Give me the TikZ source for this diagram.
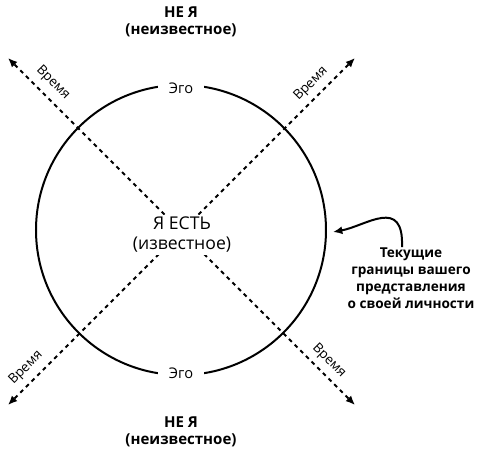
\documentclass[tikz,border=0pt]{standalone}
\usepackage{fontspec}
\setmainfont{Open Sans}
\usetikzlibrary{arrows.meta}
\begin{document}
\begin{tikzpicture}[x=0.75pt,y=-0.75pt,
  axis/.style={line width=1.5pt, dash pattern=on 3pt off 3pt, -{Latex[length=7pt,width=6pt]}},
  title/.style={font=\bfseries\fontsize{11.3}{12.8}\selectfont, align=center, inner sep=0pt},
  ego/.style={font=\fontsize{11}{12}\selectfont, fill=white, inner xsep=8pt, inner ysep=2pt},
  time/.style={font=\fontsize{10}{11}\selectfont, inner sep=0pt},
  note/.style={font=\bfseries\fontsize{10.2}{12.8}\selectfont, align=center, inner sep=0pt}]
\useasboundingbox (0,0) rectangle (480,456);
\coordinate (tl) at (8,58);
\coordinate (tr) at (355,58);
\coordinate (bl) at (8,405);
\coordinate (br) at (355,405);
\coordinate (o) at (181.5,231.5);
\draw[axis] (o) -- (tl);
\draw[axis] (o) -- (tr);
\draw[axis] (o) -- (bl);
\draw[axis] (o) -- (br);
\draw[line width=1.5pt] (181,230) circle[radius=145];
\node[fill=white, align=center, inner sep=2pt, font=\fontsize{13.2}{15}\selectfont] (c) at (182,235) {Я ЕСТЬ\\(известное)};
\node[ego] (egot) at (181,88) {Эго};
\node[ego] (egob) at (181,373) {Эго};
\node[title] (nt) at (181,22) {НЕ Я\\(неизвестное)};
\node[title] (nb) at (181,432) {НЕ Я\\(неизвестное)};
\node[time, rotate=-45] (t1) at (53,83) {Время};
\node[time, rotate=45] (t2) at (311,84) {Время};
\node[time, rotate=45] (t3) at (26,368) {Время};
\node[time, rotate=-45] (t4) at (329,361) {Время};
\node[note] (n) at (411,278) {Текущие\\границы вашего\\представления\\о своей личности};
\coordinate (tip) at (333,232);
\draw[line width=1.5pt, -{Latex[length=7pt,width=6pt]}] (n.north -| 402,0) .. controls (404,196) and (366,226) .. (tip);
\end{tikzpicture}
\end{document}
